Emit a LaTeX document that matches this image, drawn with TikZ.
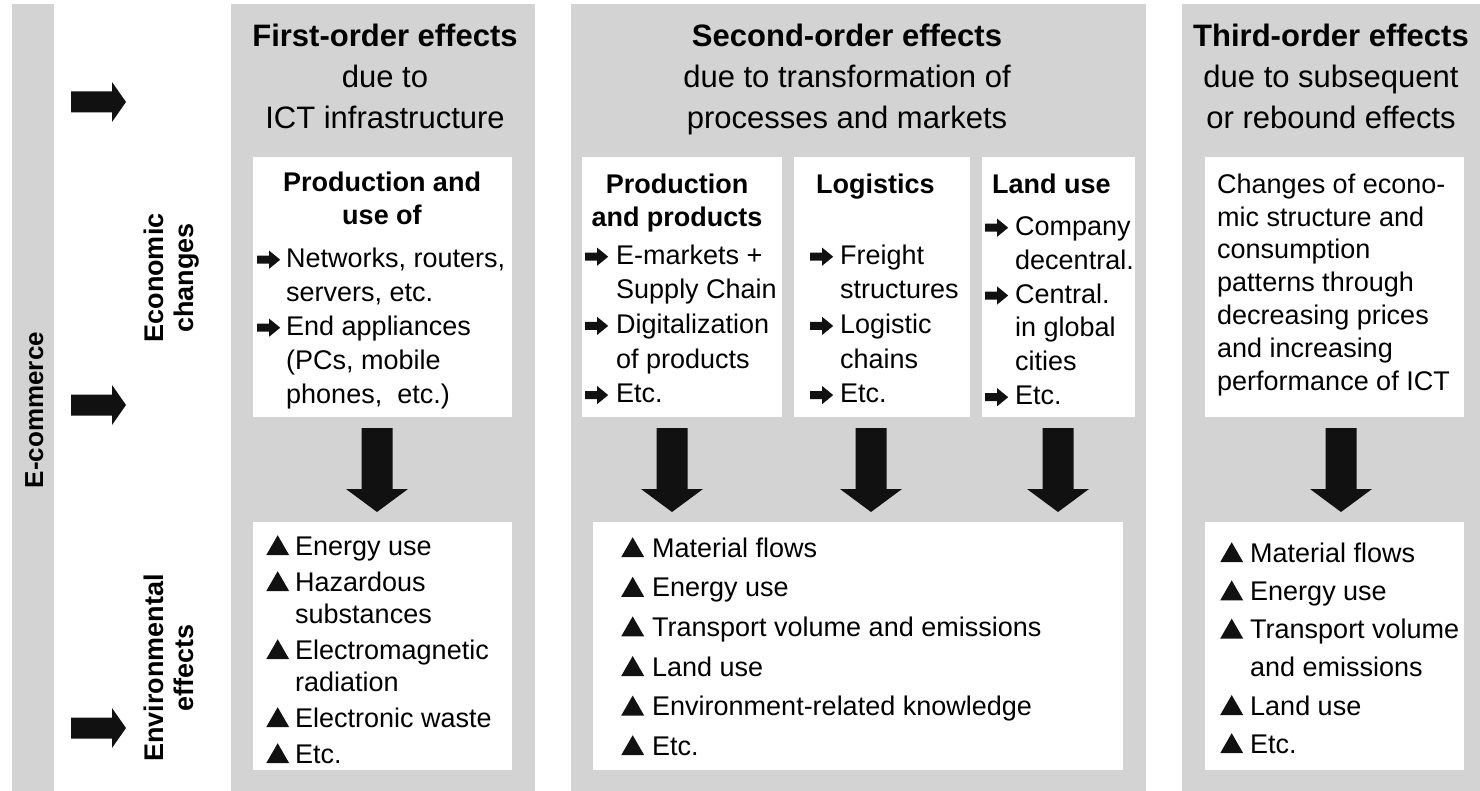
\documentclass[tikz,border=0pt]{standalone}
\usepackage{fontspec}
\setmainfont{Liberation Sans}
\definecolor{panel}{RGB}{211,211,211}
\definecolor{ink}{RGB}{17,17,17}
\newcommand{\fl}{\rule{0pt}{22pt}}
\newcommand{\tl}{\rule{0pt}{26pt}}
\newcommand{\rarr}[1][29pt]{\makebox[#1][l]{\tikz[baseline=0pt]\fill[ink] (0pt,3.5pt)--(12pt,3.5pt)--(12pt,-1.5pt)--(23pt,7.5pt)--(12pt,16.5pt)--(12pt,11.5pt)--(0pt,11.5pt)--cycle;}}
\newcommand{\tri}[1][29pt]{\makebox[#1][l]{\tikz[baseline=0pt]\fill[ink] (0pt,0pt)--(23pt,0pt)--(11.5pt,20pt)--cycle;}}
\newcommand{\ind}[1][29pt]{\hbox to #1{}}
\tikzset{
  txt/.style={inner sep=0pt, anchor=north west, align=left, font=\fontsize{27}{#1}\selectfont},
  hdr/.style={inner sep=0pt, anchor=north, align=center, font=\bfseries\fontsize{27}{33.5}\selectfont},
  ttl/.style={inner sep=0pt, anchor=north, align=center, font=\fontsize{31}{41}\selectfont},
  side/.style={inner sep=0pt, anchor=north, align=center, rotate=90, font=\bfseries\fontsize{27}{30}\selectfont},
  wbox/.style={fill=white},
  gpanel/.style={fill=panel},
}
\begin{document}
\begin{tikzpicture}[x=1pt,y=-1pt]
\useasboundingbox (0,0) rectangle (1480,791);
\fill[white] (0,0) rectangle (1480,791);
% panels
\fill[gpanel] (12,4) rectangle (54,791);
\fill[gpanel] (231,4) rectangle (535,791);
\fill[gpanel] (571,4) rectangle (1146,791);
\fill[gpanel] (1182,4) rectangle (1480,791);
% white boxes, top row
\fill[wbox] (253,157) rectangle (512,417);
\fill[wbox] (582,157) rectangle (782,417);
\fill[wbox] (794,157) rectangle (970,417);
\fill[wbox] (982,157) rectangle (1135,417);
\fill[wbox] (1205,157) rectangle (1464,417);
% white boxes, bottom row
\fill[wbox] (253,522) rectangle (512,770);
\fill[wbox] (593,522) rectangle (1123,770);
\fill[wbox] (1205,522) rectangle (1464,770);
% big down arrows
\foreach \c in {377,672,871,1058,1341}
  \fill[ink] (\c-15.5,428) -- (\c+15.5,428) -- (\c+15.5,489) -- (\c+31,489) -- (\c,512) -- (\c-31,489) -- (\c-15.5,489) -- cycle;
% left arrows
\foreach \c in {102,405,728}
  \fill[ink] (71,\c-10.5) -- (112,\c-10.5) -- (112,\c-20) -- (126,\c) -- (112,\c+20) -- (112,\c+10.5) -- (71,\c+10.5) -- cycle;
% side labels
\node[inner sep=0pt, anchor=base, rotate=90, font=\bfseries\fontsize{26}{26}\selectfont] (ecom) at (43,410) {E-commerce};
\node[side] (econ) at (141,278) {\fl Economic\\changes};
\node[side] (envi) at (141,668) {\fl Environmental\\effects};
% titles
\node[ttl] (t1) at (385,20) {\tl{\bfseries First-order effects}\\due to\\ICT infrastructure};
\node[ttl] (t2) at (847,20) {\tl{\bfseries Second-order effects}\\due to transformation of\\processes and markets};
\node[ttl] (t3) at (1331,20) {\tl{\bfseries Third-order effects}\\due to subsequent\\or rebound effects};
% top row texts
\node[hdr] (h1) at (382,169) {\fl Production and\\use of};
\node[txt=34] (l1) at (257,245) {\fl\rarr Networks, routers,\\\ind servers, etc.\\\rarr End appliances\\\ind (PCs, mobile\\\ind phones,\ \ etc.)};
\node[hdr] (h2a) at (677,171) {\fl Production\\and products};
\node[txt=34.6] (l2a) at (585,242) {\fl\rarr[31pt]E-markets +\\\ind[31pt]Supply Chain\\\rarr[31pt]Digitalization\\\ind[31pt]of products\\\rarr[31pt]Etc.};
\node[hdr, anchor=north west] (h2b) at (816,171) {\fl Logistics};
\node[txt=34.6] (l2b) at (810,242) {\fl\rarr[30pt]Freight\\\ind[30pt]structures\\\rarr[30pt]Logistic\\\ind[30pt]chains\\\rarr[30pt]Etc.};
\node[hdr, anchor=north west] (h2c) at (992,171) {\fl Land use};
\node[txt=33.9] (l2c) at (985,213) {\fl\rarr[30pt]Company\\\ind[30pt]decentral.\\\rarr[30pt]Central.\\\ind[30pt]in global\\\ind[30pt]cities\\\rarr[30pt]Etc.};
\node[txt=32.8] (l3) at (1217,171) {\fl Changes of econo-\\mic structure and\\consumption\\patterns through\\decreasing prices\\and increasing\\performance of ICT};
% bottom row texts
\node[txt=32] (b1) at (266,533) {\fl\tri Energy use\\[4pt]\tri Hazardous\\\ind substances\\[4pt]\tri Electromagnetic\\\ind radiation\\[4pt]\tri Electronic waste\\[4pt]\tri Etc.};
\node[txt=39.6] (b2) at (621,535) {\fl\tri[31pt]Material flows\\\tri[31pt]Energy use\\\tri[31pt]Transport volume and emissions\\\tri[31pt]Land use\\\tri[31pt]Environment-related knowledge\\\tri[31pt]Etc.};
\node[txt=38.2] (b3) at (1220,540) {\fl\tri[30pt]Material flows\\\tri[30pt]Energy use\\\tri[30pt]Transport volume\\\ind[30pt]and emissions\\\tri[30pt]Land use\\\tri[30pt]Etc.};
\end{tikzpicture}
\end{document}
